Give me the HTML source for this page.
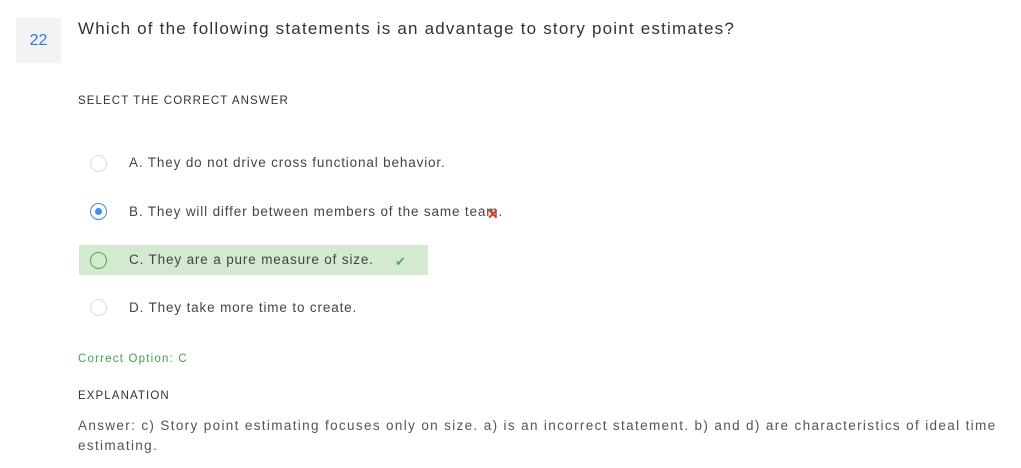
<!DOCTYPE html>
<html><head><style>
body{margin:0;width:1021px;height:468px;background:#fff;font-family:"Liberation Sans",sans-serif;position:relative;overflow:hidden}
.a{position:absolute;white-space:nowrap}
.num{left:16px;top:18px;width:45px;height:45px;background:#f3f3f3;color:#2a7de1;font-size:16px;line-height:45px;text-align:center}
.q{left:78px;top:19px;font-size:17px;color:#333;letter-spacing:1.2px}
.h{font-size:11.5px;color:#333;letter-spacing:1.1px}
.opt{font-size:13.5px;color:#444;letter-spacing:0.85px}
.r{position:absolute;width:17px;height:17px;border-radius:50%;border:1px solid #ddd;box-sizing:border-box;left:90px}
</style></head><body>
<div class="a num">22</div>
<div class="a q">Which of the following statements is an advantage to story point estimates?</div>
<div class="a h" style="left:78px;top:95px">SELECT THE CORRECT ANSWER</div>
<div class="r" style="top:155px"></div>
<div class="a opt" style="left:129px;top:155px">A. They do not drive cross functional behavior.</div>
<div class="r" style="top:203px;border:1.5px solid #3b8ee6"><div style="position:absolute;left:3.5px;top:3.5px;width:7px;height:7px;border-radius:50%;background:#3b8ee6"></div></div>
<div class="a opt" style="left:129px;top:204px">B. They will differ between members of the same team.</div>
<div class="a" style="left:487px;top:206px;color:#d9392b;font-size:14px;font-weight:bold">✕</div>
<div class="a" style="left:79px;top:245px;width:349px;height:30px;background:#d3e9d0"></div>
<div class="r" style="top:252px;border:1.3px solid #4caf50"></div>
<div class="a opt" style="left:129px;top:252px">C. They are a pure measure of size.</div>
<div class="a" style="left:395px;top:254px;color:#4caf50;font-size:13px">✔</div>
<div class="r" style="top:299px"></div>
<div class="a opt" style="left:129px;top:300px">D. They take more time to create.</div>
<div class="a" style="left:78px;top:353px;font-size:11.5px;color:#3fa34d;letter-spacing:1.2px">Correct Option: C</div>
<div class="a h" style="left:78px;top:390px">EXPLANATION</div>
<div class="a" style="left:78px;top:416px;font-size:13.5px;color:#555;line-height:20px;white-space:normal;width:935px;letter-spacing:1.35px">Answer: c) Story point estimating focuses only on size. a) is an incorrect statement. b) and d) are characteristics of ideal time estimating.</div>
</body></html>
